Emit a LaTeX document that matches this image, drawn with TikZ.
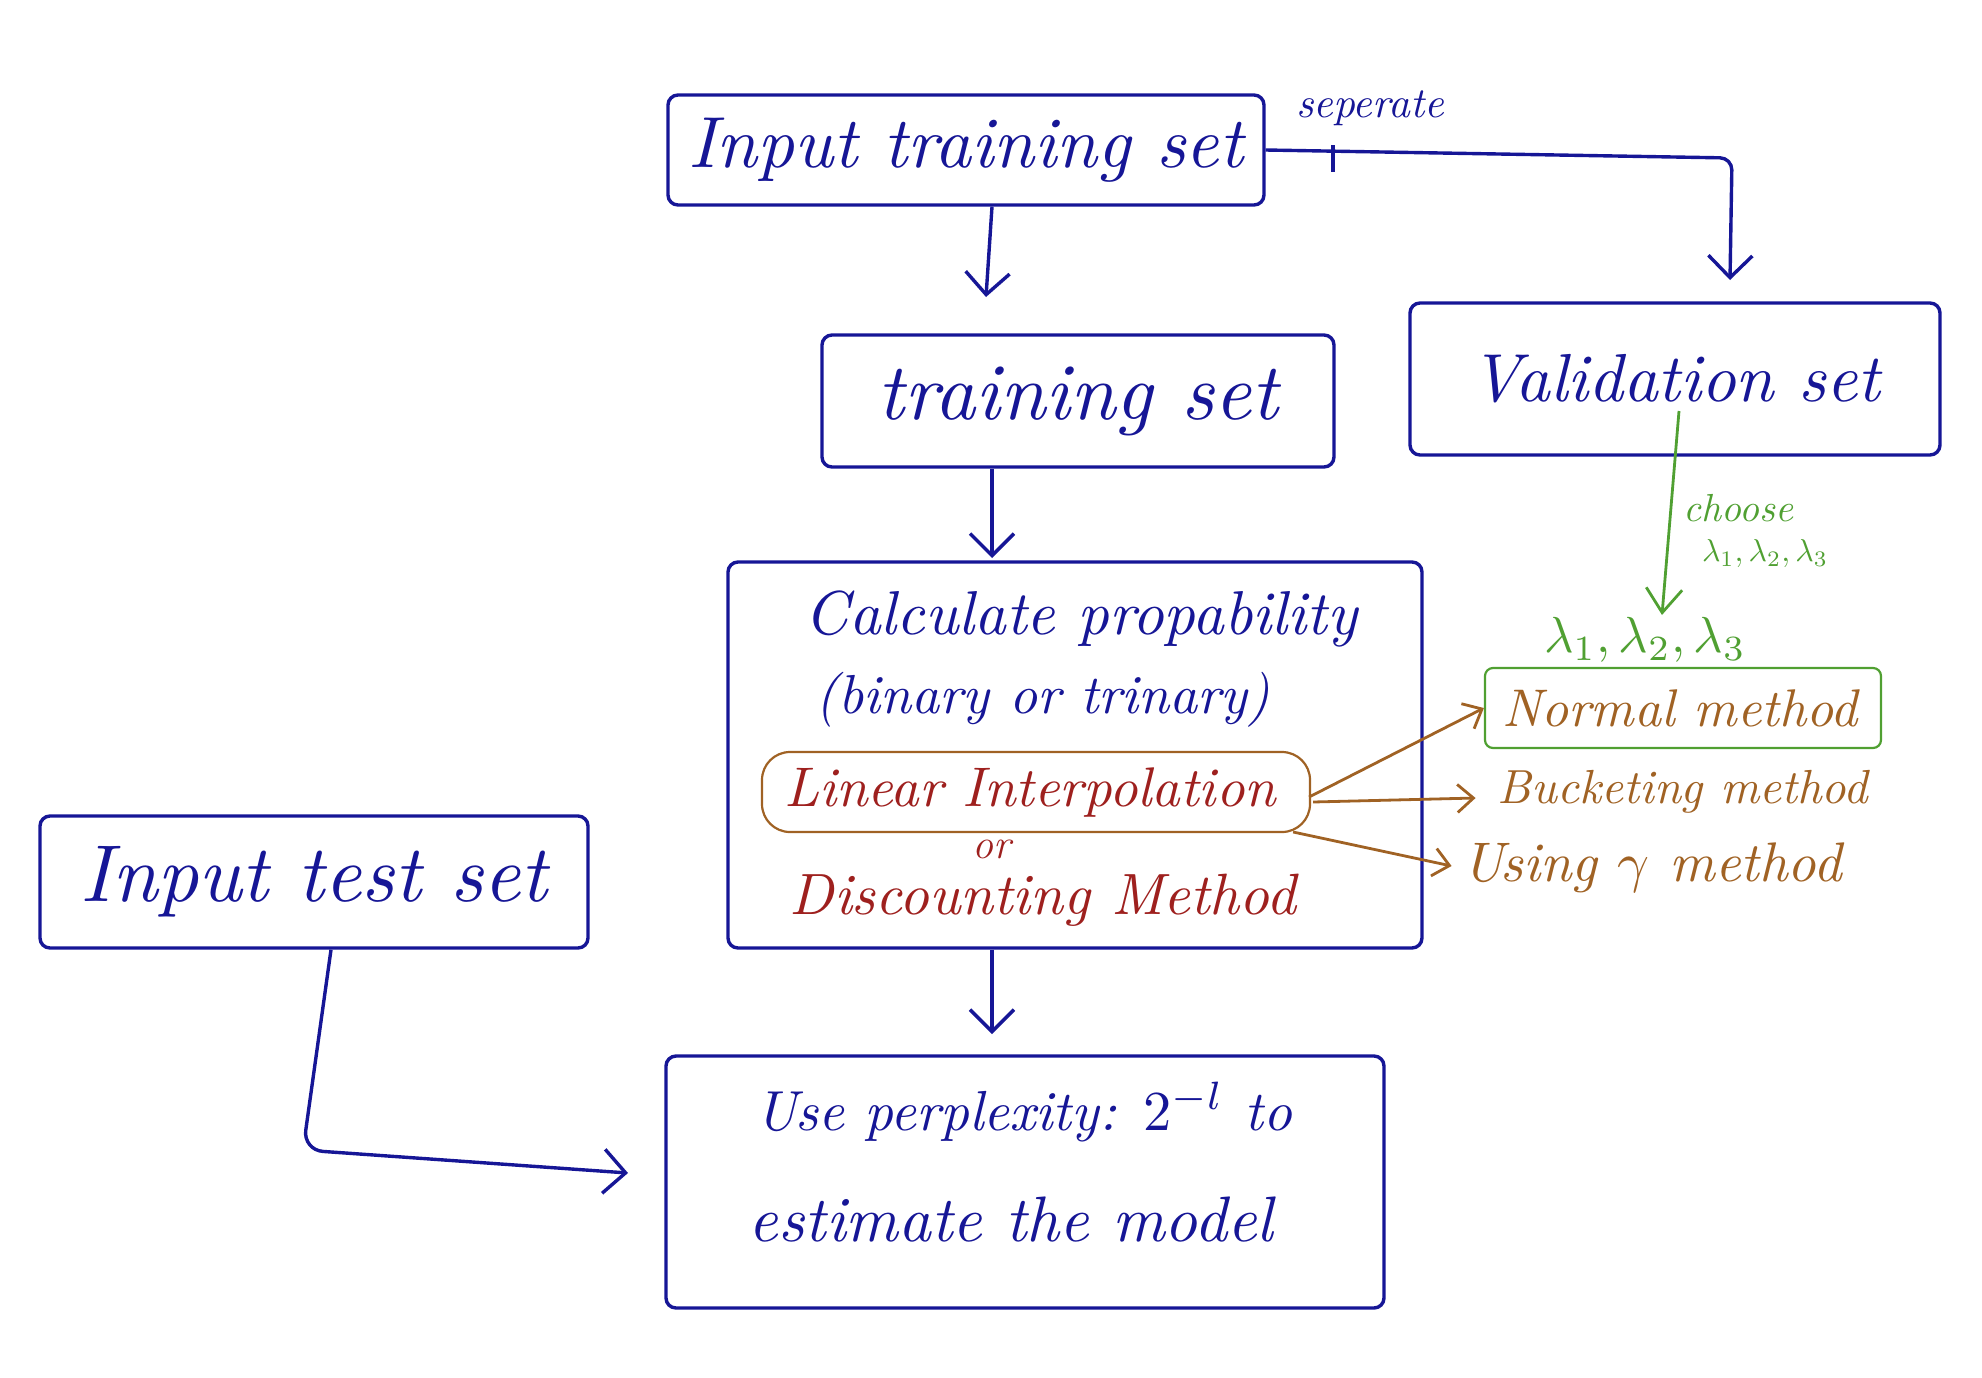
\documentclass[tikz,border=0pt]{standalone}
\usetikzlibrary{arrows.meta,calc}
\definecolor{ink}{RGB}{22,22,150}
\definecolor{redink}{RGB}{158,32,30}
\definecolor{brownink}{RGB}{160,98,36}
\definecolor{greenink}{RGB}{80,160,50}
\newcommand\fitw[2]{\resizebox{#1pt}{!}{\itshape #2}}
\begin{document}
\begin{tikzpicture}[x=0.5pt,y=-0.5pt,
  box/.style={draw=ink, line width=1.7pt, rounded corners=5pt, inner sep=0pt, text=ink},
  txt/.style={inner sep=0pt, text=ink},
  arr/.style={draw=ink, line width=1.7pt, -{Straight Barb[length=11pt,width=22pt]}},
  barr/.style={draw=brownink, line width=1.4pt, -{Straight Barb[length=8pt,width=14pt]}},
  garr/.style={draw=greenink, line width=1.4pt, -{Straight Barb[length=12pt,width=18pt]}}]
\useasboundingbox (0,0) rectangle (1982,1377);
% boxes
\node[box, minimum width=298pt, minimum height=55pt] (itr) at (966,150) {\fitw{277}{Input training set}};
\node[box, minimum width=256pt, minimum height=66pt] (tr) at (1078,401) {\fitw{200}{training set}};
\node[box, minimum width=265pt, minimum height=76pt] (val) at (1675,379) {\fitw{205}{Validation set}};
\node[box, minimum width=347pt, minimum height=193pt] (calc) at (1075,755) {};
\node[box, minimum width=359pt, minimum height=126pt, align=center] (use) at (1025,1182) {};
\node[box, minimum width=274pt, minimum height=66pt] (test) at (314,882) {\fitw{233}{Input test set}};
% texts in calc
\node[txt] (c1) at (1081,619) {\fitw{276}{Calculate propability}};
\node[txt] (c2) at (1043,700) {\fitw{227}{(binary or trinary)}};
\node[draw=brownink, line width=1.1pt, rounded corners=14pt, minimum width=274pt, minimum height=40pt, inner sep=0pt] (lin) at (1036,792) {};
\node[txt, text=redink] (c3) at (1030,793) {\fitw{246}{Linear Interpolation}};
\node[txt, text=redink, font=\fontsize{21}{23}\selectfont\itshape] (c4) at (992,849) {or};
\node[txt, text=redink] (c5) at (1043,900) {\fitw{253}{Discounting Method}};
% texts in use
\node[txt] (u1) at (1024,1112) {\fitw{268}{Use perplexity: $2^{-l}$ to}};
\node[txt] (u2) at (1011,1220) {\fitw{262}{estimate the model}};
% right side methods
\node[draw=greenink, line width=1.1pt, rounded corners=4pt, minimum width=198pt, minimum height=40pt, inner sep=0pt] (normal) at (1683,708) {};
\node[txt, text=brownink] (nm) at (1680,708) {\fitw{178}{Normal method}};
\node[txt, text=brownink] (bm) at (1683,792) {\fitw{185}{Bucketing method}};
\node[txt, text=brownink] (um) at (1652,868) {\fitw{190}{Using $\gamma$ method}};
\node[txt, text=greenink] (lam) at (1645,640) {\fitw{101}{$\lambda_1,\lambda_2,\lambda_3$}};
\node[txt, text=greenink] (ch1) at (1738,508) {\fitw{55}{choose}};
\node[txt, text=greenink] (ch2) at (1765,554) {\fitw{63}{$\lambda_1,\lambda_2,\lambda_3$}};
\node[txt] (sep) at (1370,108) {\fitw{74}{seperate}};
% connector anchors
\coordinate (a1s) at (itr.south -| 992,0);
\coordinate (a1e) at (986,297);
\coordinate (a2s) at (tr.south -| 992,0);
\coordinate (a2e) at (992,558);
\coordinate (a3s) at (calc.south -| 992,0);
\coordinate (a3e) at (992,1034);
\coordinate (sepc) at (1732,158);
\coordinate (sepe) at (1730,280);
\coordinate (tick1) at (1333,145);
\coordinate (tick2) at (1333,172);
\coordinate (tc) at (303,1150);
\coordinate (te) at (628,1173);
\coordinate (gs) at (1679,411);
\coordinate (ge) at (1662,615);
% connectors
\draw[arr] (a1s) -- (a1e);
\draw[arr] (a2s) -- (a2e);
\draw[arr] (a3s) -- (a3e);
\draw[arr, rounded corners=6pt] (itr.east) -- (sepc) -- (sepe);
\draw[draw=ink, line width=1.7pt] (tick1) -- (tick2);
\draw[arr, rounded corners=10pt] (test.south -| 331,0) -- (tc) -- (te);
\draw[garr] (gs) -- (ge);
\draw[barr] ($(lin.east)+(-2,5)$) -- (normal.west);
\draw[barr] ($(lin.east)+(2,10)$) -- ($(bm.west)+(-22,6)$);
\draw[barr] ($(lin.east)+(-18,40)$) -- ($(um.west)+(-10,-2)$);
\end{tikzpicture}
\end{document}
